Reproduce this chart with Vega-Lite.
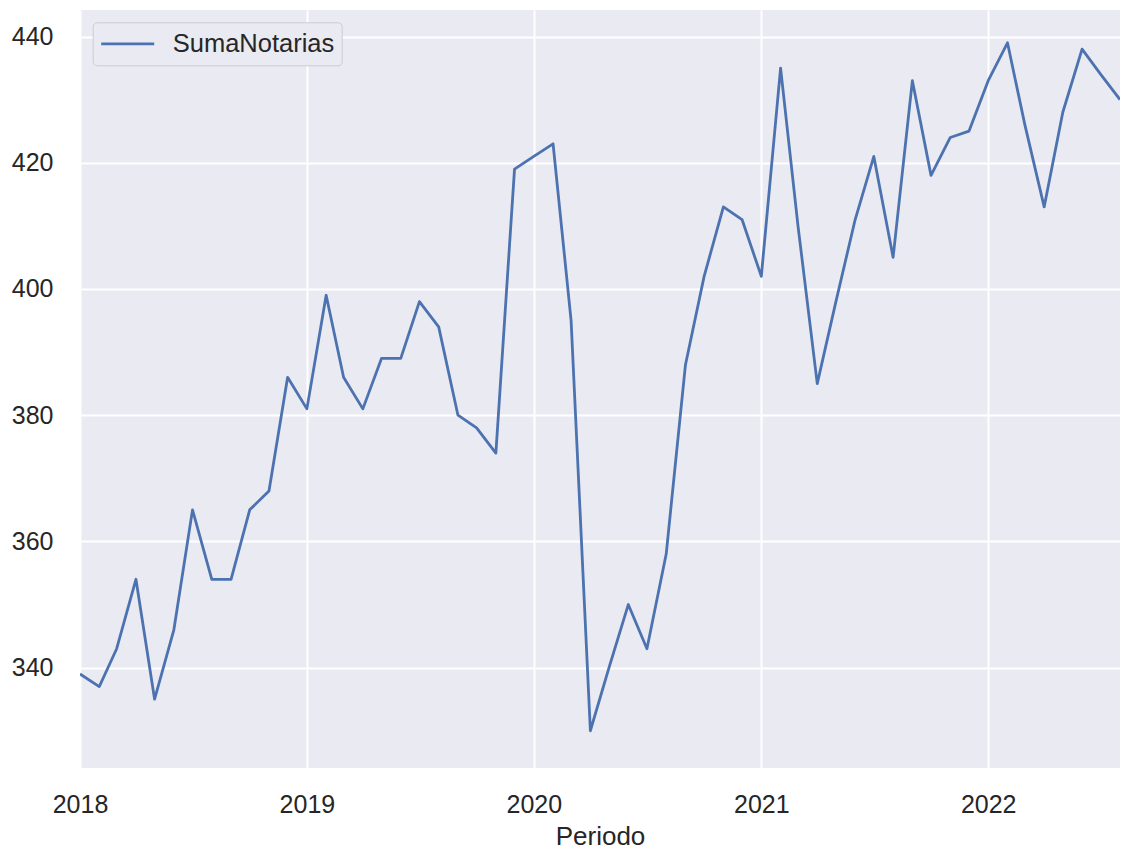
{
  "$schema": "https://vega.github.io/schema/vega-lite/v6.json",
  "width": 1040,
  "height": 758,
  "autosize": "none",
  "padding": {"left": 80, "top": 10, "right": 3, "bottom": 81},
  "background": "#ffffff",
  "data": {
    "values": [
      {"Periodo": "2018-01-01", "SumaNotarias": 339},
      {"Periodo": "2018-02-01", "SumaNotarias": 337},
      {"Periodo": "2018-03-01", "SumaNotarias": 343},
      {"Periodo": "2018-04-01", "SumaNotarias": 354},
      {"Periodo": "2018-05-01", "SumaNotarias": 335},
      {"Periodo": "2018-06-01", "SumaNotarias": 346},
      {"Periodo": "2018-07-01", "SumaNotarias": 365},
      {"Periodo": "2018-08-01", "SumaNotarias": 354},
      {"Periodo": "2018-09-01", "SumaNotarias": 354},
      {"Periodo": "2018-10-01", "SumaNotarias": 365},
      {"Periodo": "2018-11-01", "SumaNotarias": 368},
      {"Periodo": "2018-12-01", "SumaNotarias": 386},
      {"Periodo": "2019-01-01", "SumaNotarias": 381},
      {"Periodo": "2019-02-01", "SumaNotarias": 399},
      {"Periodo": "2019-03-01", "SumaNotarias": 386},
      {"Periodo": "2019-04-01", "SumaNotarias": 381},
      {"Periodo": "2019-05-01", "SumaNotarias": 389},
      {"Periodo": "2019-06-01", "SumaNotarias": 389},
      {"Periodo": "2019-07-01", "SumaNotarias": 398},
      {"Periodo": "2019-08-01", "SumaNotarias": 394},
      {"Periodo": "2019-09-01", "SumaNotarias": 380},
      {"Periodo": "2019-10-01", "SumaNotarias": 378},
      {"Periodo": "2019-11-01", "SumaNotarias": 374},
      {"Periodo": "2019-12-01", "SumaNotarias": 419},
      {"Periodo": "2020-01-01", "SumaNotarias": 421},
      {"Periodo": "2020-02-01", "SumaNotarias": 423},
      {"Periodo": "2020-03-01", "SumaNotarias": 395},
      {"Periodo": "2020-04-01", "SumaNotarias": 330},
      {"Periodo": "2020-05-01", "SumaNotarias": 340},
      {"Periodo": "2020-06-01", "SumaNotarias": 350},
      {"Periodo": "2020-07-01", "SumaNotarias": 343},
      {"Periodo": "2020-08-01", "SumaNotarias": 358},
      {"Periodo": "2020-09-01", "SumaNotarias": 388},
      {"Periodo": "2020-10-01", "SumaNotarias": 402},
      {"Periodo": "2020-11-01", "SumaNotarias": 413},
      {"Periodo": "2020-12-01", "SumaNotarias": 411},
      {"Periodo": "2021-01-01", "SumaNotarias": 402},
      {"Periodo": "2021-02-01", "SumaNotarias": 435},
      {"Periodo": "2021-03-01", "SumaNotarias": 410},
      {"Periodo": "2021-04-01", "SumaNotarias": 385},
      {"Periodo": "2021-05-01", "SumaNotarias": 398},
      {"Periodo": "2021-06-01", "SumaNotarias": 411},
      {"Periodo": "2021-07-01", "SumaNotarias": 421},
      {"Periodo": "2021-08-01", "SumaNotarias": 405},
      {"Periodo": "2021-09-01", "SumaNotarias": 433},
      {"Periodo": "2021-10-01", "SumaNotarias": 418},
      {"Periodo": "2021-11-01", "SumaNotarias": 424},
      {"Periodo": "2021-12-01", "SumaNotarias": 425},
      {"Periodo": "2022-01-01", "SumaNotarias": 433},
      {"Periodo": "2022-02-01", "SumaNotarias": 439},
      {"Periodo": "2022-03-01", "SumaNotarias": 426},
      {"Periodo": "2022-04-01", "SumaNotarias": 413},
      {"Periodo": "2022-05-01", "SumaNotarias": 428},
      {"Periodo": "2022-06-01", "SumaNotarias": 438},
      {"Periodo": "2022-07-01", "SumaNotarias": 434},
      {"Periodo": "2022-08-01", "SumaNotarias": 430}
    ]
  },
  "mark": {"type": "line", "strokeWidth": 2.8, "strokeJoin": "round", "clip": true},
  "encoding": {
    "x": {
      "field": "Periodo",
      "type": "temporal",
      "scale": {
        "type": "utc",
        "domain": [
          {"year": 2018, "month": 1, "date": 1, "utc": true},
          {"year": 2022, "month": 8, "date": 1, "utc": true}
        ],
        "nice": false
      },
      "axis": {
        "title": "Periodo",
        "format": "%Y",
        "tickCount": {"interval": "year", "step": 1},
        "labelPadding": 24,
        "labelFlush": false,
        "labelAlign": "center",
        "titleY": 76,
        "titleBaseline": "alphabetic"
      }
    },
    "y": {
      "field": "SumaNotarias",
      "type": "quantitative",
      "scale": {"domain": [324.1, 444.2], "nice": false, "zero": false},
      "axis": {
        "title": null,
        "values": [340, 360, 380, 400, 420, 440],
        "labelPadding": 27
      }
    },
    "color": {
      "datum": "SumaNotarias",
      "scale": {"range": ["#4c72b0"]},
      "legend": {
        "orient": "none",
        "legendX": 12.7,
        "legendY": 12.3,
        "title": null,
        "symbolType": "stroke",
        "symbolSize": 2809,
        "symbolStrokeWidth": 2.8,
        "labelFontSize": 25.5,
        "labelFont": "Liberation Sans",
        "labelColor": "#262626",
        "labelOffset": 17,
        "labelLimit": 400,
        "padding": 7,
        "clipHeight": 29,
        "strokeColor": "#cccccc",
        "fillColor": "#eaeaf2",
        "cornerRadius": 4
      }
    }
  },
  "config": {
    "view": {"fill": "#eaeaf2", "stroke": null},
    "axis": {
      "domain": false,
      "ticks": false,
      "tickSize": 0,
      "grid": true,
      "gridColor": "#ffffff",
      "gridWidth": 2,
      "labelFont": "Liberation Sans",
      "labelFontSize": 25,
      "labelColor": "#262626",
      "titleFont": "Liberation Sans",
      "titleFontSize": 26,
      "titleFontWeight": "normal",
      "titleColor": "#262626",
      "labelOverlap": false
    }
  }
}
